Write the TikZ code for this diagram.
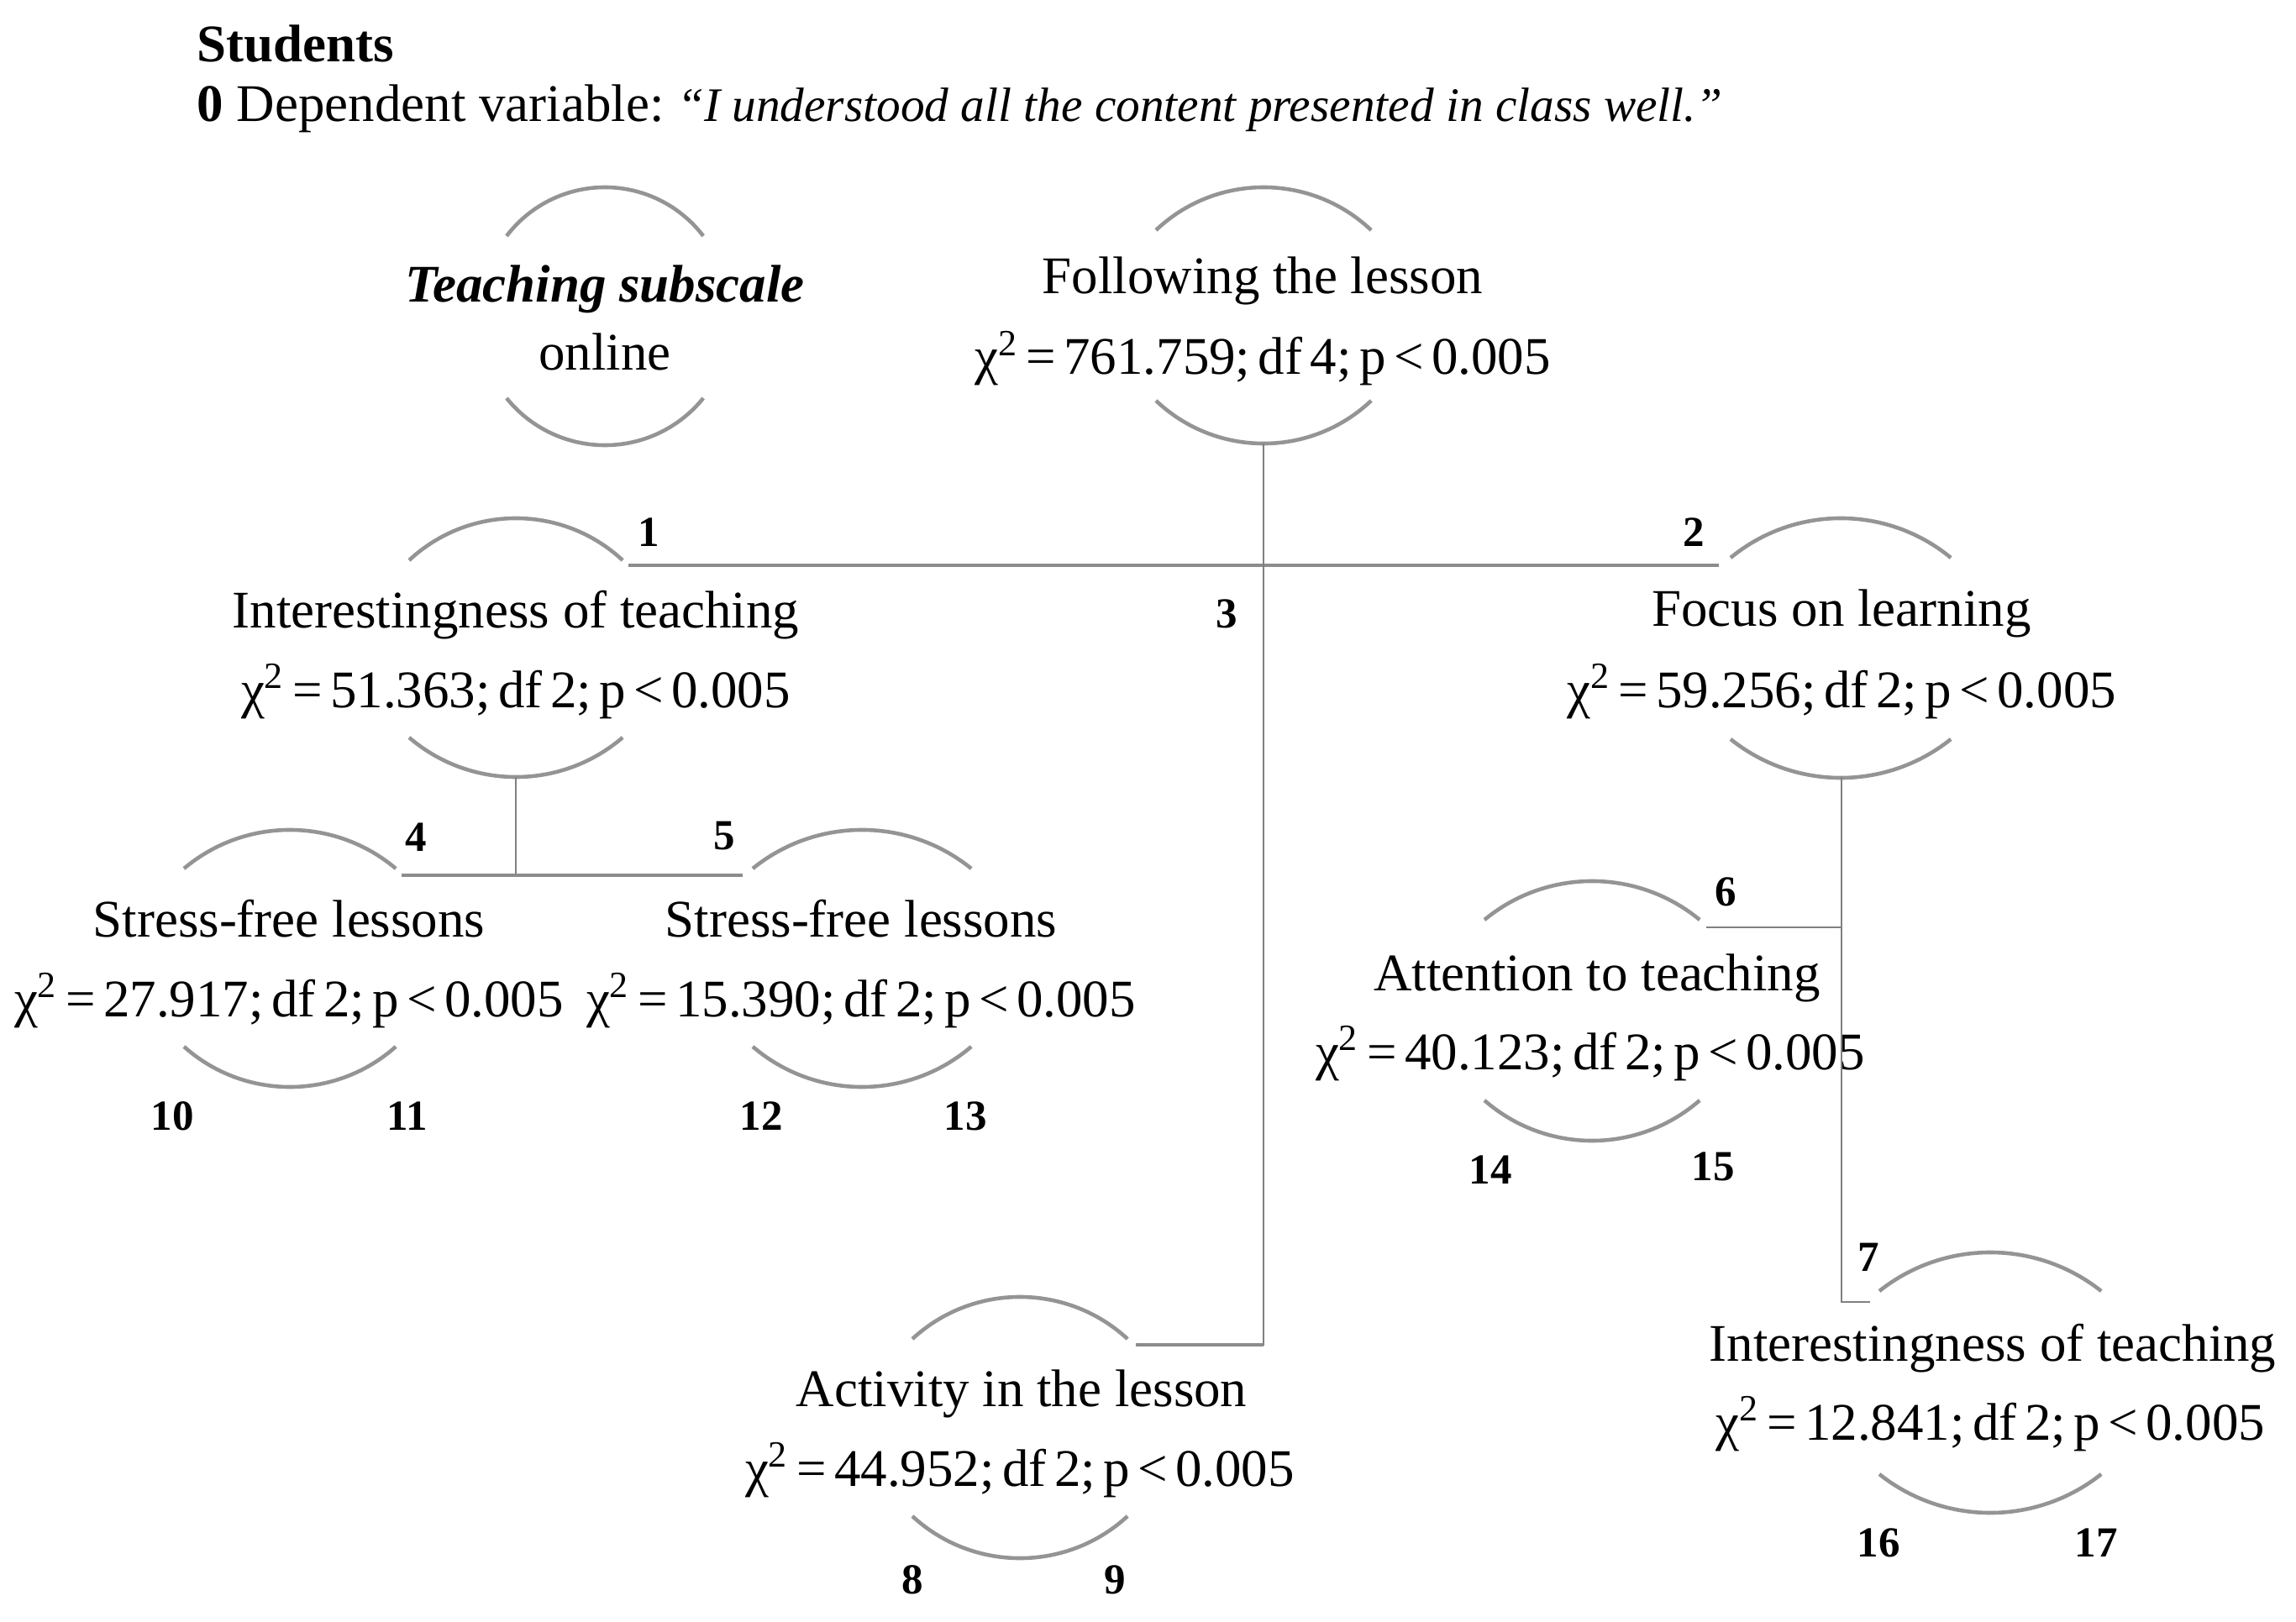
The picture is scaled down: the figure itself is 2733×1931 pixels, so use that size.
\documentclass[tikz,border=0pt]{standalone}
\usepackage{fontspec}
\setmainfont{Liberation Serif}
\frenchspacing
\newcommand{\ArcTop}[4]{% cx, y of ends, half width, rise
  \pgfmathsetmacro\myR{#3*(#3/(2*#4))+#4/2}%
  \pgfmathsetmacro\myA{asin(#3/\myR)}%
  \pgfmathsetmacro\myRd{\myR*0.284528}%
  \draw[arcline] ({#1-#3},#2) arc[start angle={90+\myA}, end angle={90-\myA}, radius=\myRd pt];}
\newcommand{\ArcBot}[4]{%
  \pgfmathsetmacro\myR{#3*(#3/(2*#4))+#4/2}%
  \pgfmathsetmacro\myA{asin(#3/\myR)}%
  \pgfmathsetmacro\myRd{\myR*0.284528}%
  \draw[arcline] ({#1-#3},#2) arc[start angle={270-\myA}, end angle={270+\myA}, radius=\myRd pt];}
\newcommand{\Chi}[3]{\spaceskip=0.15em\relax χ\textsuperscript{2} = #1; df #2; p < #3}
\begin{document}
\begin{tikzpicture}[x=0.01cm,y=-0.01cm,
  arcline/.style={draw=black!42, line width=1.3pt},
  tree/.style={draw=black!50, line width=0.8pt},
  treeh/.style={draw=black!45, line width=1.3pt},
  txt/.style={font=\fontsize{17.9}{21}\selectfont, anchor=base, inner sep=0pt},
  num/.style={font=\bfseries\fontsize{14.5}{16}\selectfont, anchor=base, inner sep=0pt}]
\useasboundingbox (0,0) rectangle (2733,1931);
\fill[white] (0,0) rectangle (2733,1931);

% heading
\node[txt, anchor=base west] (title) at (234,74) {\textbf{Students}};
\node[txt, anchor=base west] (dep) at (234,145) {\textbf{0} Dependent variable: {\fontsize{16.3}{20}\selectfont\textit{“I understood all the content presented in class well.”}}};

% Teaching subscale online
\ArcTop{720}{281}{117}{58}
\node[txt] (ts1) at (720,360) {\textbf{\textit{Teaching subscale}}};
\node[txt] (ts2) at (720,441) {online};
\ArcBot{720}{474}{117}{56}

% root
\ArcTop{1504}{274}{128}{51}
\node[txt] (root1) at (1503,350) {Following the lesson};
\node[txt] (root2) at (1503,446) {\Chi{761.759}{4}{0.005}};
\ArcBot{1504}{477}{128}{51}

% Interestingness (left)
\ArcTop{614}{667}{127}{50}
\node[txt] (il1) at (614,748) {Interestingness of teaching};
\node[txt] (il2) at (614,842) {\Chi{51.363}{2}{0.005}};
\ArcBot{614}{878}{127}{47}

% Focus on learning
\ArcTop{2191}{664}{131}{47}
\node[txt] (fo1) at (2192,745) {Focus on learning};
\node[txt] (fo2) at (2192,842) {\Chi{59.256}{2}{0.005}};
\ArcBot{2191}{880}{131}{46}

% Stress-free left
\ArcTop{345}{1034}{126}{46}
\node[txt] (sl1) at (344,1115) {Stress-free lessons};
\node[txt] (sl2) at (344,1210) {\Chi{27.917}{2}{0.005}};
\ArcBot{345}{1246}{126}{48}

% Stress-free right
\ArcTop{1026}{1034}{130}{46}
\node[txt] (sr1) at (1025,1115) {Stress-free lessons};
\node[txt] (sr2) at (1025,1210) {\Chi{15.390}{2}{0.005}};
\ArcBot{1026}{1246}{130}{48}

% Attention to teaching
\ArcTop{1895}{1095}{128}{46}
\node[txt] (at1) at (1901,1179) {Attention to teaching};
\node[txt] (at2) at (1893,1273) {\Chi{40.123}{2}{0.005}};
\ArcBot{1895}{1310}{128}{48}

% Activity in the lesson
\ArcTop{1214}{1594}{128}{50}
\node[txt] (ac1) at (1216,1674) {Activity in the lesson};
\node[txt] (ac2) at (1214,1769) {\Chi{44.952}{2}{0.005}};
\ArcBot{1214}{1805}{128}{50}

% Interestingness (right)
\ArcTop{2369}{1537}{132}{46}
\node[txt] (ir1) at (2372,1620) {Interestingness of teaching};
\node[txt] (ir2) at (2369,1714) {\Chi{12.841}{2}{0.005}};
\ArcBot{2369}{1755}{132}{46}

% connectors
\coordinate (rootB) at (1504,528);
\coordinate (h1L) at (748,673);
\coordinate (h1R) at (2046,673);
\coordinate (actJ) at (1352,1601);
\draw[treeh] (h1L) -- (h1R);
\draw[tree] (rootB) |- (actJ);
\draw[treeh] (actJ) -- (actJ -| rootB);

\coordinate (ilB) at (614,925);
\coordinate (h2L) at (478,1042);
\coordinate (h2R) at (884,1042);
\draw[tree] (ilB) -- (ilB |- h2L);
\draw[treeh] (h2L) -- (h2R);

\coordinate (foB) at (2192,925);
\coordinate (c7) at (2226,1550);
\coordinate (c6) at (2031,1104);
\draw[tree] (foB) |- (c7);
\draw[tree] (c6) -- (c6 -| foB);

% numbers
\node[num] (n1) at (772,651) {1};
\node[num] (n2) at (2016,651) {2};
\node[num] (n3) at (1460,748) {3};
\node[num] (n4) at (495,1013) {4};
\node[num] (n5) at (862,1011) {5};
\node[num] (n6) at (2054,1078) {6};
\node[num] (n7) at (2224,1513) {7};
\node[num] (n8) at (1086,1897) {8};
\node[num] (n9) at (1327,1897) {9};
\node[num] (n10) at (205,1345) {10};
\node[num] (n11) at (485,1345) {11};
\node[num] (n12) at (906,1345) {12};
\node[num] (n13) at (1149,1345) {13};
\node[num] (n14) at (1774,1409) {14};
\node[num] (n15) at (2039,1405) {15};
\node[num] (n16) at (2236,1853) {16};
\node[num] (n17) at (2495,1853) {17};
\end{tikzpicture}
\end{document}
